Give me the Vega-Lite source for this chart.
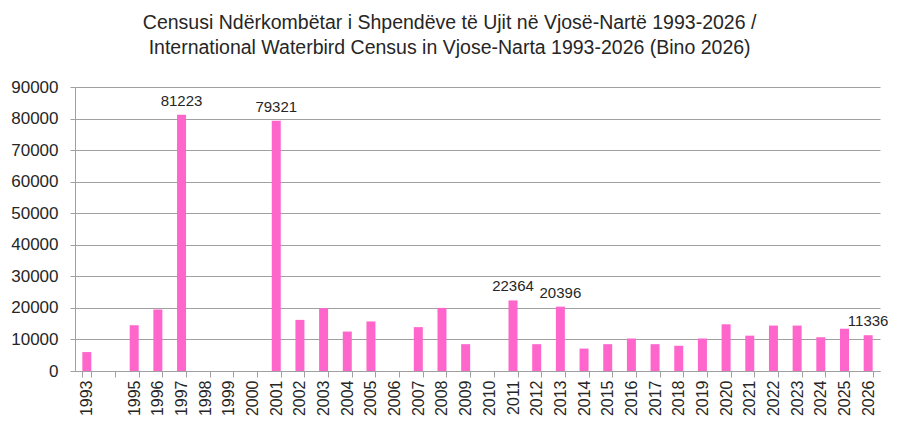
{
  "$schema": "https://vega.github.io/schema/vega-lite/v6.json",
  "autosize": {"type": "none"},
  "width": 805,
  "height": 284,
  "padding": {"left": 75, "top": 87, "right": 20, "bottom": 63},
  "background": "white",
  "title": {
    "text": ["Censusi Ndërkombëtar i Shpendëve të Ujit në Vjosë-Nartë 1993-2026 /", "International Waterbird Census in Vjose-Narta 1993-2026 (Bino 2026)"],
    "font": "Liberation Sans",
    "fontSize": 19.5,
    "fontWeight": "normal",
    "color": "#262626",
    "anchor": "middle",
    "frame": "bounds",
    "lineHeight": 25,
    "offset": 20
  },
  "data": {
    "values": [
      {"year": "1993", "count": 6000},
      {"year": "1994", "count": null},
      {"year": "1995", "count": 14500},
      {"year": "1996", "count": 19500},
      {"year": "1997", "count": 81223},
      {"year": "1998", "count": null},
      {"year": "1999", "count": null},
      {"year": "2000", "count": null},
      {"year": "2001", "count": 79321},
      {"year": "2002", "count": 16200},
      {"year": "2003", "count": 19900},
      {"year": "2004", "count": 12500},
      {"year": "2005", "count": 15700},
      {"year": "2006", "count": null},
      {"year": "2007", "count": 13900},
      {"year": "2008", "count": 20000},
      {"year": "2009", "count": 8500},
      {"year": "2010", "count": null},
      {"year": "2011", "count": 22364},
      {"year": "2012", "count": 8500},
      {"year": "2013", "count": 20396},
      {"year": "2014", "count": 7100},
      {"year": "2015", "count": 8500},
      {"year": "2016", "count": 10300},
      {"year": "2017", "count": 8500},
      {"year": "2018", "count": 8000},
      {"year": "2019", "count": 10300},
      {"year": "2020", "count": 14800},
      {"year": "2021", "count": 11200},
      {"year": "2022", "count": 14400},
      {"year": "2023", "count": 14400},
      {"year": "2024", "count": 10700},
      {"year": "2025", "count": 13400},
      {"year": "2026", "count": 11336}
    ]
  },
  "encoding": {
    "x": {
      "field": "year",
      "type": "ordinal",
      "sort": null,
      "scale": {
        "domain": ["1993","1994","1995","1996","1997","1998","1999","2000","2001","2002","2003","2004","2005","2006","2007","2008","2009","2010","2011","2012","2013","2014","2015","2016","2017","2018","2019","2020","2021","2022","2023","2024","2025","2026"],
        "paddingInner": 0.62, "paddingOuter": 0.31
      },
      "axis": {
        "title": null,
        "labelAngle": -90,
        "labelExpr": "datum.value == '1994' ? '' : datum.label",
        "labelFont": "Liberation Sans",
        "labelFontSize": 16,
        "labelColor": "#262626",
        "labelPadding": 3,
        "tickBand": "extent",
        "tickSize": 6,
        "tickColor": "#a0a0a0",
        "domainColor": "#a0a0a0",
        "grid": false
      }
    },
    "y": {
      "field": "count",
      "type": "quantitative",
      "scale": {"domain": [0, 90000], "nice": false},
      "axis": {
        "title": null,
        "values": [0, 10000, 20000, 30000, 40000, 50000, 60000, 70000, 80000, 90000],
        "format": "d",
        "labelFont": "Liberation Sans",
        "labelFontSize": 17,
        "labelColor": "#262626",
        "labelPadding": 12,
        "tickSize": 5,
        "tickColor": "#a0a0a0",
        "domainColor": "#a0a0a0",
        "gridColor": "#a0a0a0",
        "grid": true
      }
    }
  },
  "layer": [
    {"mark": {"type": "bar", "color": "#FF66CC"}},
    {
      "transform": [{"filter": "indexof(['1997','2001','2011','2013','2026'], datum.year) >= 0"}],
      "mark": {"type": "text", "baseline": "bottom", "dy": -6, "font": "Liberation Sans", "fontSize": 15, "color": "#262626"},
      "encoding": {"text": {"field": "count", "type": "quantitative", "format": "d"}}
    }
  ],
  "config": {"view": {"stroke": null}}
}
